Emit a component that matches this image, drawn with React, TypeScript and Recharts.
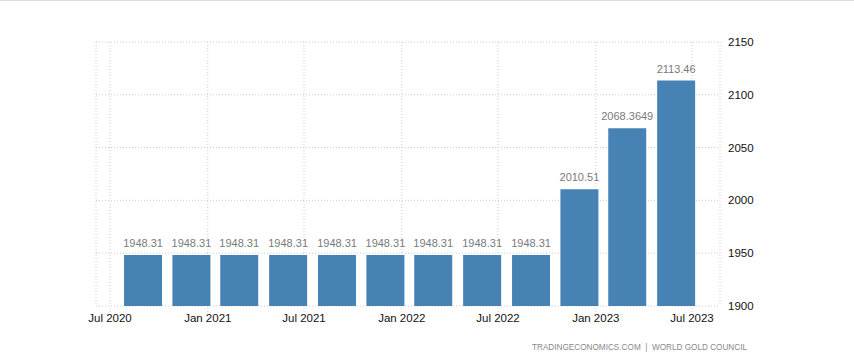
import React from 'react';
import { BarChart, Bar, XAxis, YAxis, CartesianGrid, LabelList } from 'recharts';

const periods = ['2020-09-01', '2020-12-01', '2021-03-01', '2021-06-01', '2021-09-01', '2021-12-01', '2022-03-01', '2022-06-01', '2022-09-01', '2022-12-01', '2023-03-01', '2023-06-01'];
const values = [1948.31, 1948.31, 1948.31, 1948.31, 1948.31, 1948.31, 1948.31, 1948.31, 1948.31, 2010.51, 2068.3649, 2113.46];
const xTickDates = ['2020-07-01', '2021-01-01', '2021-07-01', '2022-01-01', '2022-07-01', '2023-01-01', '2023-07-01'];
const yTicks = [1900, 1950, 2000, 2050, 2100, 2150];
const MONTHS = ['Jan', 'Feb', 'Mar', 'Apr', 'May', 'Jun', 'Jul', 'Aug', 'Sep', 'Oct', 'Nov', 'Dec'];

const toDay = (s: string) => {
  const [y, m, d] = s.split('-').map(Number);
  return Date.UTC(y, m - 1, d) / 86400000;
};
const fmtDay = (n: number) => {
  const dt = new Date(n * 86400000);
  return `${MONTHS[dt.getUTCMonth()]} ${dt.getUTCFullYear()}`;
};

const data = periods.map((p, i) => ({ t: toDay(p), value: values[i] }));
const xTicks = xTickDates.map(toDay);

const FONT = '"Liberation Sans", Arial, sans-serif';

export default function App() {
  const x0 = toDay('2020-07-01');
  const x1 = toDay('2023-07-01');
  const ppd = 582 / (x1 - x0);
  const domainMin = x0 - 14 / ppd;
  const domainMax = x1 + 28 / ppd;
  return (
    <div style={{ position: 'relative', width: 854, height: 362, background: '#fff' }}>
      <style>{'body{margin:0}'}</style>
      <div style={{ position: 'absolute', left: 0, top: 0, width: 854, height: 1, background: '#ddd' }} />
      <BarChart
        width={854}
        height={362}
        data={data}
        margin={{ top: 42, right: 0, left: 96, bottom: 26 }}
      >
        <CartesianGrid stroke="#ccc" strokeDasharray="1 2" />
        <XAxis
          dataKey="t"
          type="number"
          domain={[domainMin, domainMax]}
          ticks={xTicks}
          tickFormatter={fmtDay}
          axisLine={false}
          tickLine={{ stroke: '#ccc', strokeDasharray: '1 2' }}
          tickSize={6}
          tickMargin={2}
          height={30}
          interval={0}
          tick={{ fill: '#111', fontSize: 11.5, fontFamily: FONT }}
        />
        <YAxis
          orientation="right"
          domain={[1900, 2150]}
          ticks={yTicks}
          axisLine={false}
          tickLine={false}
          width={134}
          interval={0}
          tick={{ fill: '#111', fontSize: 11.5, fontFamily: FONT, textAnchor: 'start' }}
        />
        <Bar dataKey="value" fill="#4682B4" barSize={38} isAnimationActive={false}>
          <LabelList
            dataKey="value"
            position="top"
            offset={8}
            fill="#7a7a7a"
            fontSize={11}
            fontFamily={FONT}
          />
        </Bar>
      </BarChart>
      <div
        style={{
          position: 'absolute',
          right: 107,
          top: 342,
          fontFamily: FONT,
          fontSize: 8.2,
          color: '#888',
          whiteSpace: 'pre',
          lineHeight: '12px',
        }}
      >
        {'TRADINGECONOMICS.COM  |  WORLD GOLD COUNCIL'}
      </div>
    </div>
  );
}
